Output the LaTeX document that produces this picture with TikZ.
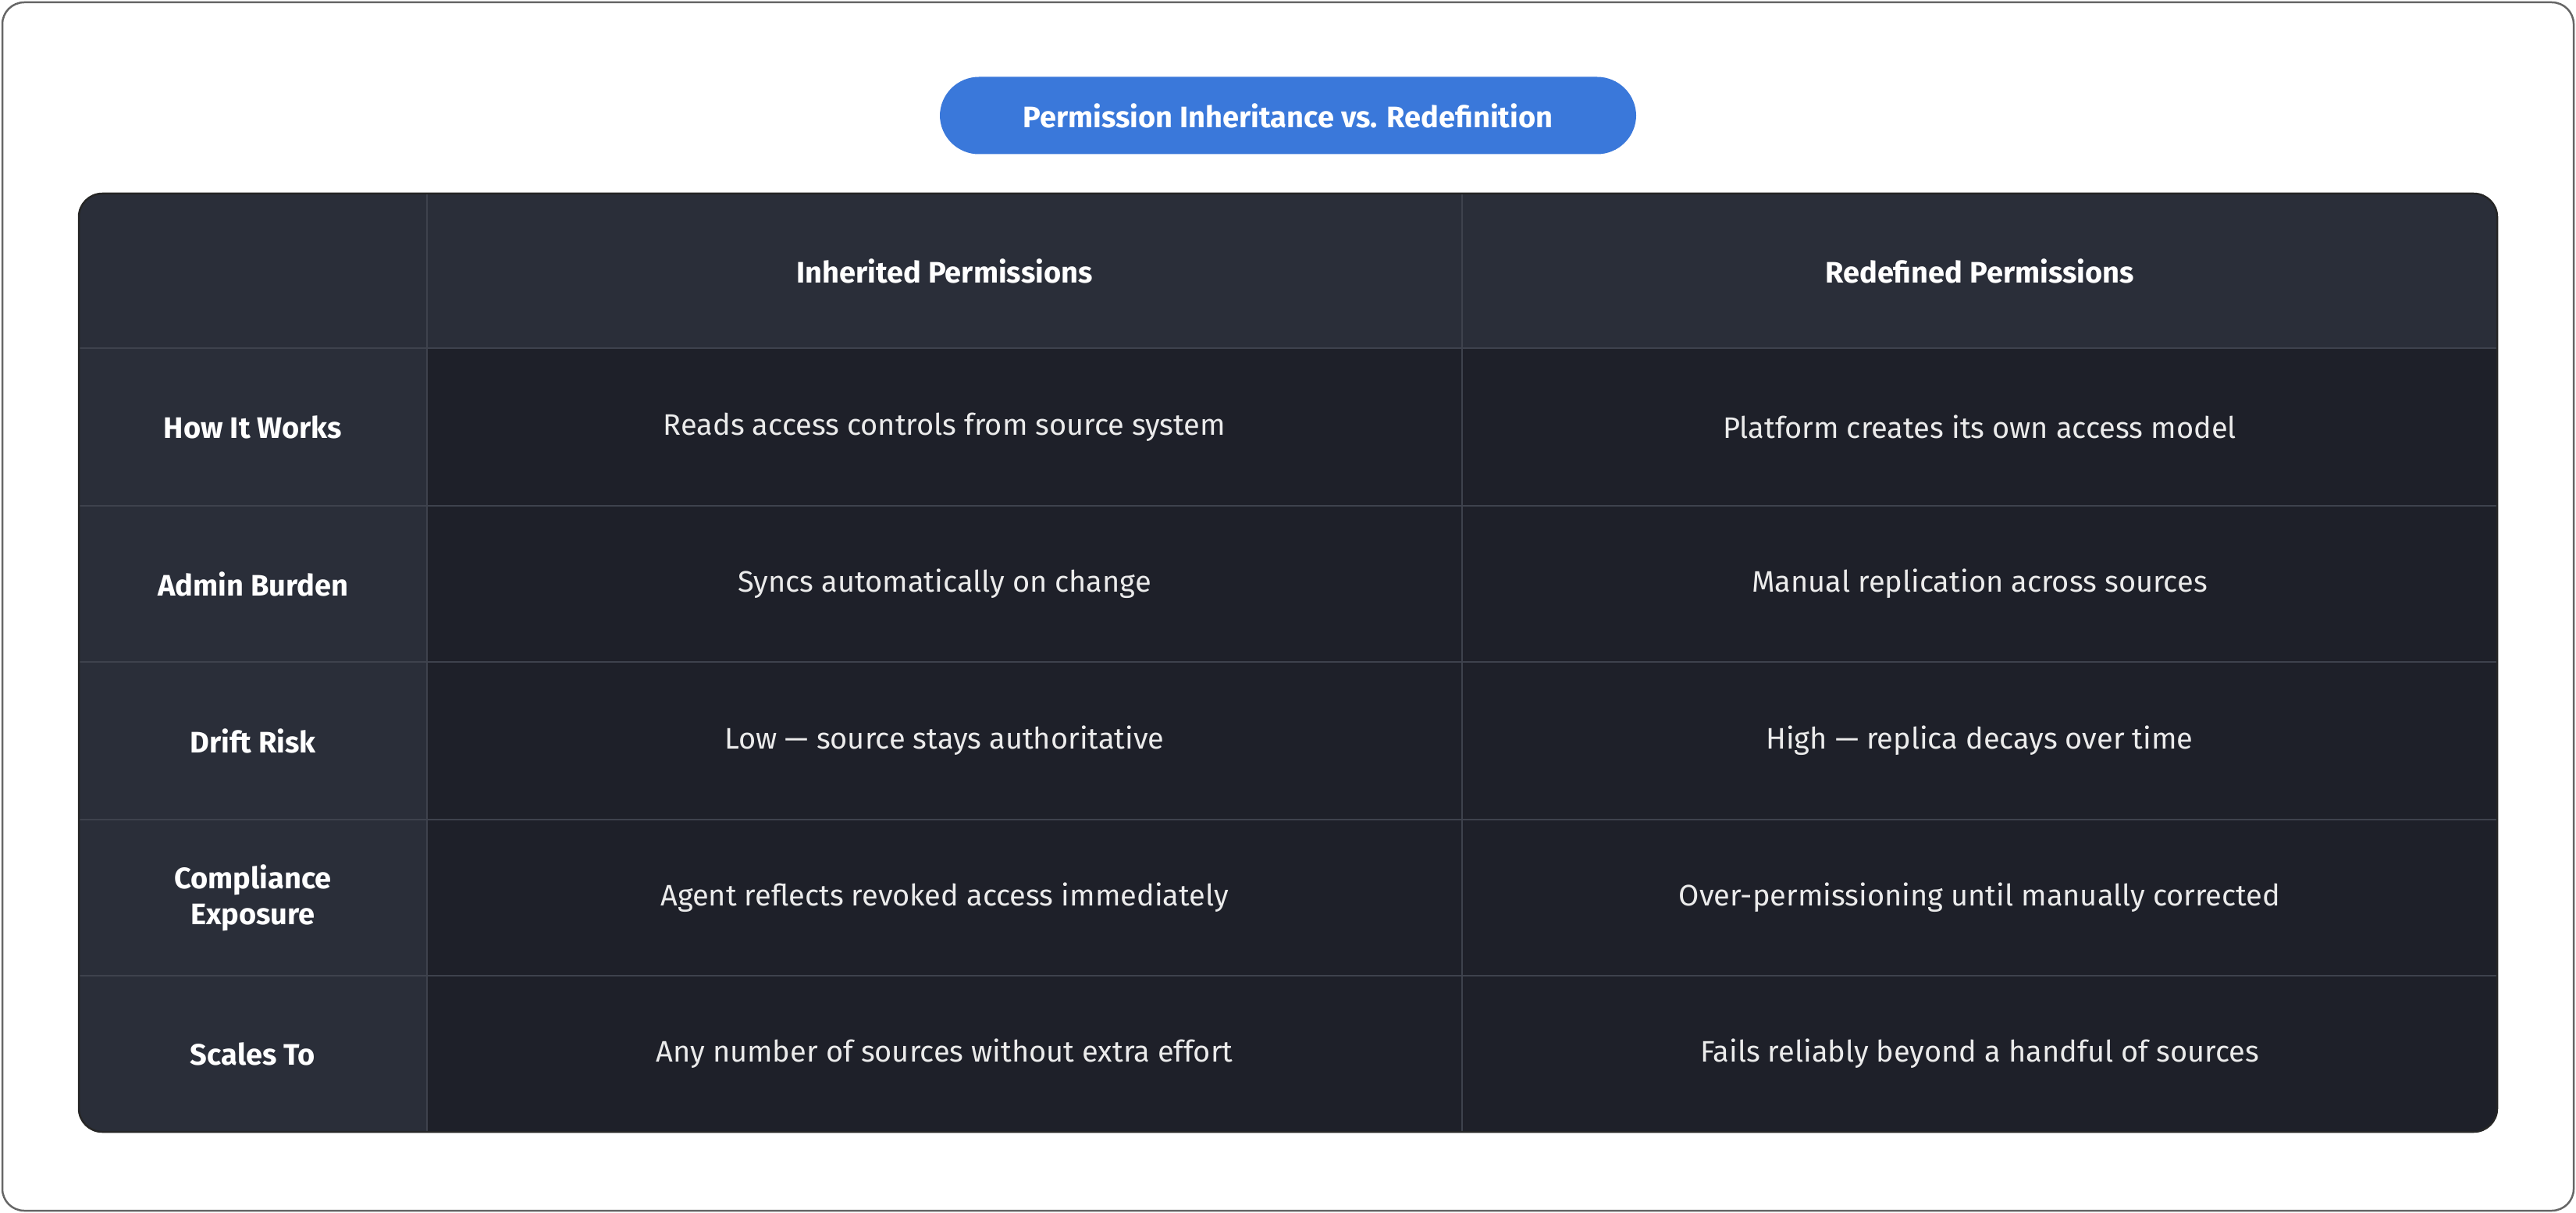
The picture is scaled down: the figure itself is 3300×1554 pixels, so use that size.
\documentclass[tikz,border=0pt]{standalone}
\usepackage{fontspec}
\setmainfont{Fira Sans}
\begin{document}
\begin{tikzpicture}[x=1pt,y=-1pt,
  cell/.style={text=white!92!black,font=\fontsize{38}{46}\selectfont,align=center},
  head/.style={text=white,font=\fontsize{38}{46}\selectfont\bfseries,align=center},
  grid/.style={draw=black!40!gray!90,line width=2.5pt}]
\definecolor{dk}{HTML}{2A2E39}
\definecolor{bd}{HTML}{1E2029}
\definecolor{ln}{HTML}{3E424D}
\definecolor{pill}{HTML}{3A78DA}
\useasboundingbox (0,0) rectangle (3300,1554);
\draw[line width=2.5pt,draw=gray!80!black,rounded corners=28] (3,3) rectangle (3297,1551);
\node[fill=pill,rounded corners=50,minimum width=892,minimum height=99,text=white,font=\fontsize{38}{46}\selectfont\bfseries] (title) at (1650,148) {Permission Inheritance vs. Redefinition};
\begin{scope}
\clip[rounded corners=30] (101,248) rectangle (3199,1450);
\fill[dk] (101,248) rectangle (3199,1450);
\fill[bd] (547,446) rectangle (3199,1450);
\foreach \y in {446,648,848,1050,1250} \draw[ln,line width=2.5pt] (101,\y) -- (3199,\y);
\foreach \x in {547,1873} \draw[ln,line width=2.5pt] (\x,248) -- (\x,1450);
\end{scope}
\draw[draw=black!70!gray,line width=2.5pt,rounded corners=30] (101,248) rectangle (3199,1450);
\node[head] (h1) at (1210,347) {Inherited Permissions};
\node[head] (h2) at (2536,347) {Redefined Permissions};
\node[head] (r1) at (324,547) {How It Works};
\node[head] (r2) at (324,748) {Admin Burden};
\node[head] (r3) at (324,949) {Drift Risk};
\node[head] (r4) at (324,1150) {Compliance\\Exposure};
\node[head] (r5) at (324,1350) {Scales To};
\node[cell] (a1) at (1210,547) {Reads access controls from source system};
\node[cell] (b1) at (2536,547) {Platform creates its own access model};
\node[cell] (a2) at (1210,748) {Syncs automatically on change};
\node[cell] (b2) at (2536,748) {Manual replication across sources};
\node[cell] (a3) at (1210,949) {Low — source stays authoritative};
\node[cell] (b3) at (2536,949) {High — replica decays over time};
\node[cell] (a4) at (1210,1150) {Agent reflects revoked access immediately};
\node[cell] (b4) at (2536,1150) {Over-permissioning until manually corrected};
\node[cell] (a5) at (1210,1350) {Any number of sources without extra effort};
\node[cell] (b5) at (2536,1350) {Fails reliably beyond a handful of sources};
\end{tikzpicture}
\end{document}
